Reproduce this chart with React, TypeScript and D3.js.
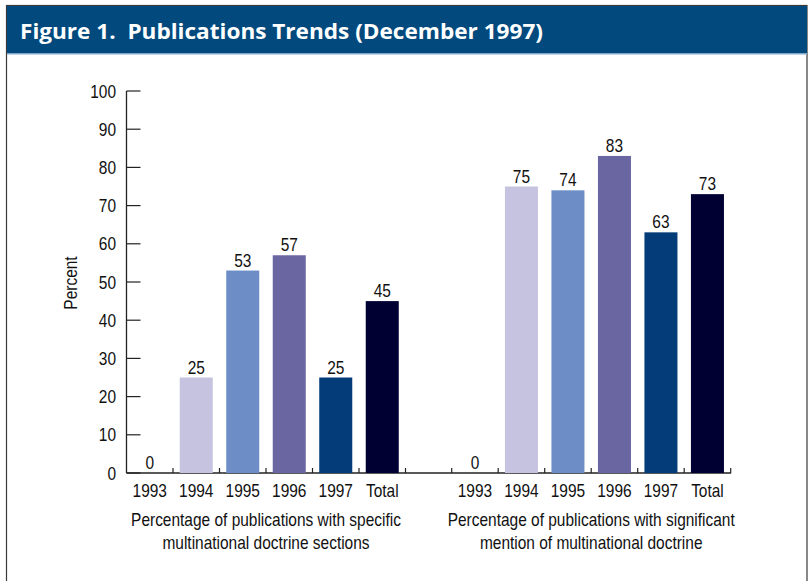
import React from 'react';
import * as d3 from 'd3';

// chart values
const categories = ['1993', '1994', '1995', '1996', '1997', 'Total'];
const specificSections = [0, 25, 53, 57, 25, 45];
const significantMention = [0, 75, 74, 83, 63, 73];
const barColors = ['#c6c3e0', '#c6c3e0', '#6d8dc6', '#6a66a2', '#033c78', '#000033'];
const yTicks = [0, 10, 20, 30, 40, 50, 60, 70, 80, 90, 100];
const groupLabels = [
  ['Percentage of publications with specific', 'multinational doctrine sections'],
  ['Percentage of publications with significant', 'mention of multinational doctrine'],
];

const W = 810;
const H = 581;
const font = '"Liberation Sans", Arial, sans-serif';
const fs = 18;
const squeeze = 0.86;

// narrow text: helvetica condensed look
const T = ({ x, y, anchor = 'middle', children }: any) => (
  <text transform={`translate(${x},${y}) scale(${squeeze},1)`} textAnchor={anchor}
    fontFamily={font} fontSize={fs} fill="#111">{children}</text>
);

const App = () => {
  let yScale = d3.scaleLinear().domain([0, 100]).range([473, 91]);
  let x0 = 126.5;
  let xEnd = 731;

  let panels = [
    { data: specificSections, range: [126.5, 405.5], labels: groupLabels[0] },
    { data: significantMention, range: [451.7, 730.7], labels: groupLabels[1] },
  ].map((p) => ({
    ...p,
    x: d3.scaleBand().domain(categories).range(p.range as [number, number]).padding(0),
  }));

  return (
    <svg width={W} height={H} style={{ position: 'absolute', left: 0, top: 0, background: '#fff' }}>
      {/* frame and header */}
      <rect x={6.5} y={5.5} width={800.5} height={H} fill="#fff" stroke="#3a3a3a" strokeWidth={1.2} />
      <rect x={7} y={6} width={800} height={47} fill="#024a7e" />
      <rect x={7} y={53} width={800} height={1.5} fill="#7fa8cc" />
      <text x={20} y={39} fill="#fff" fontFamily='"Open Sans", "Noto Sans", sans-serif' fontWeight="bold"
        fontSize={22} textLength={523} lengthAdjust="spacingAndGlyphs" style={{ whiteSpace: 'pre' }}>
        {'Figure 1.  Publications Trends (December 1997)'}
      </text>

      {/* y axis */}
      <line x1={x0} x2={x0} y1={yScale(100)} y2={yScale(0)} stroke="#222" strokeWidth={1.3} />
      {yTicks.map((t) => (
        <g key={t}>
          <line x1={x0} x2={x0 + 14} y1={yScale(t)} y2={yScale(t)} stroke="#222" strokeWidth={1.2} />
          <T x={116} y={yScale(t) + 6.5} anchor="end">{t}</T>
        </g>
      ))}
      <text transform={`translate(77,283) rotate(-90) scale(${squeeze},1)`} textAnchor="middle" fontFamily={font} fontSize={fs} fill="#111">
        Percent
      </text>

      {/* baseline */}
      <line x1={x0} x2={xEnd} y1={yScale(0)} y2={yScale(0)} stroke="#222" strokeWidth={1.3} />

      {panels.map((p, pi) => {
        let bw = p.x.bandwidth();
        let barW = bw * 0.71;
        let center = (p.range[0] + p.range[1]) / 2;
        return (
          <g key={pi}>
            {categories.map((c, i) => {
              let left = p.x(c) as number;
              let cx = left + bw / 2;
              let v = p.data[i];
              return (
                <g key={c}>
                  {v > 0 && (
                    <rect x={cx - barW / 2} y={yScale(v)} width={barW} height={yScale(0) - yScale(v)} fill={barColors[i]} />
                  )}
                  <T x={cx} y={yScale(v) - 4}>{v}</T>
                  <T x={cx} y={497}>{c}</T>
                </g>
              );
            })}
            {categories.map((c) => {
              let tx = (p.x(c) as number) + bw;
              return <line key={'t' + c} x1={tx} x2={tx} y1={yScale(0)} y2={yScale(0) - 5} stroke="#222" strokeWidth={1.2} />;
            })}
            {pi === 1 && (
              <line x1={p.range[0]} x2={p.range[0]} y1={yScale(0)} y2={yScale(0) - 5} stroke="#222" strokeWidth={1.2} />
            )}
            {p.labels.map((l, li) => (
              <T key={li} x={center} y={526 + li * 22.5}>{l}</T>
            ))}
          </g>
        );
      })}
    </svg>
  );
};

export default App;
